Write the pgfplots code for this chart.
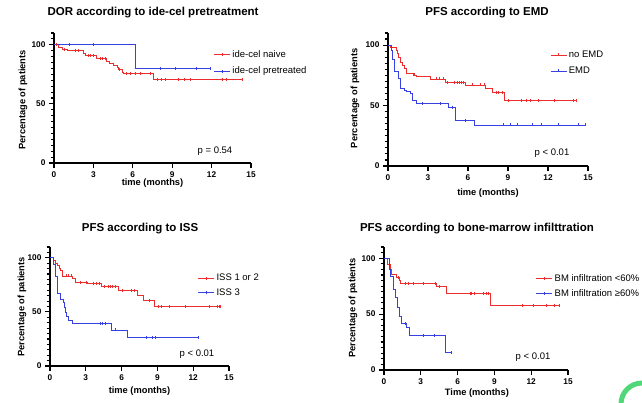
\documentclass[border=0pt]{standalone}
\usepackage{fontspec}
\setmainfont{Liberation Sans}
\usepackage{pgfplots}
\pgfplotsset{compat=1.18}
\definecolor{kmred}{RGB}{235,45,45}
\definecolor{kmblue}{RGB}{55,65,225}
\definecolor{kmgreen}{RGB}{80,215,120}
\tikzset{pval/.style={font=\fontsize{9.5}{11}\selectfont}}
\pgfplotsset{
  kmaxis/.style={
    scale only axis, anchor=south west,
    xmin=0, xmax=15, ymin=0, ymax=110,
    axis x line*=bottom, axis y line*=left,
    xtick={0,3,...,15}, ytick={0,50,100},
    tickwidth=5pt, subtickwidth=3.5pt,
    minor y tick num=9,
    extra y ticks={105,110}, extra y tick labels={},
    extra y tick style={tickwidth=3.5pt},
    xtick align=outside, ytick align=outside,
    axis line style={line width=1.2pt},
    every tick/.style={black, line width=1.1pt},
    tick label style={font=\bfseries\fontsize{8.3}{10}\selectfont},
    /pgf/number format/assume math mode=true,
    label style={font=\bfseries\fontsize{9.3}{11}\selectfont},
    every axis title shift=0pt,
    title style={font=\bfseries\fontsize{11.5}{13}\selectfont, anchor=center},
    clip=false,
    legend cell align=left,
    legend style={draw=none, fill=none, anchor=west,
      font=\fontsize{9.5}{11}\selectfont, row sep=4pt,
      inner xsep=0pt, inner ysep=0pt},
    legend image code/.code={
      \draw[##1] (0pt,0pt)--(16pt,0pt);
      \draw[##1] (8pt,-1.5pt)--(8pt,1.5pt);
    },
  },
  kmline/.style={const plot, line width=0.7pt, forget plot},
  kmcens/.style={only marks, mark=|, mark size=1.5pt, mark options={line width=0.6pt}, forget plot},
}
\begin{document}
\begin{tikzpicture}
\path[use as bounding box] (0pt,0pt) rectangle (642pt,402pt);

% Panel 1
\begin{axis}[kmaxis, at={(54pt,239pt)}, width=197pt, height=130pt,
  title={DOR according to ide-cel pretreatment},
  title style={at={(axis description cs:0.503,1.154)}, anchor=center},
  xlabel={time (months)}, ylabel={Percentage of patients},
  xlabel style={at={(axis description cs:0.5,-0.154)}, anchor=center},
  ylabel style={at={(axis description cs:-0.157,0.485)}, anchor=center},
  legend style={at={(rel axis cs:0.81,0.77)}}]
\addplot[kmred, kmline] coordinates {(0,100)(0.3,98)(0.6,96.3)(1.0,95)(2.2,93)(2.4,91)(3.2,88.7)(4.0,86.4)(4.2,84.5)(4.5,82.5)(4.8,81)(4.9,79)(5.2,77)(5.3,75.5)(7.6,70.5)(14.3,70.5)};
\addplot[kmred, kmcens] coordinates {(0.2,100)(0.8,96.3)(1.6,95)(1.85,95)(2.6,91)(2.8,91)(3.0,91)(3.5,88.7)(3.7,88.7)(3.9,88.7)(5.0,79)(5.5,75.5)(5.8,75.5)(6.2,75.5)(6.6,75.5)(7.3,75.5)(7.9,70.5)(8.2,70.5)(8.5,70.5)(9.5,70.5)(9.9,70.5)(10.4,70.5)(12.8,70.5)(13.1,70.5)(14.3,70.5)};
\addplot[kmblue, kmline] coordinates {(0,100)(6.2,80)(11.9,80)};
\addplot[kmblue, kmcens] coordinates {(1.2,100)(3.0,100)(8.1,80)(9.2,80)(10.8,80)(11.9,80)};
\addlegendimage{kmred, line width=0.7pt}
\addlegendentry{ide-cel naive}
\addlegendimage{kmblue, line width=0.7pt}
\addlegendentry{ide-cel pretreated}
\node[pval] at (rel axis cs:0.817,0.092) {p = 0.54};
\end{axis}

% Panel 2
\begin{axis}[kmaxis, at={(388pt,236pt)}, width=200pt, height=133pt,
  title={PFS according to EMD},
  title style={at={(axis description cs:0.495,1.15)}, anchor=center},
  xlabel={time (months)}, ylabel={Percentage of patients},
  xlabel style={at={(axis description cs:0.5,-0.203)}, anchor=center},
  ylabel style={at={(axis description cs:-0.165,0.51)}, anchor=center},
  legend style={at={(rel axis cs:0.81,0.775)}}]
\addplot[kmred, kmline] coordinates {(0,100)(0.2,98.5)(0.6,96)(0.7,93)(0.8,90)(0.95,86)(1.1,83.5)(1.25,80.7)(1.4,77)(1.95,75)(2.1,74)(3.2,72)(4.3,69)(5.8,67)(7.3,64)(7.8,60.5)(8.7,54.5)(14.1,54.5)};
\addplot[kmred, kmcens] coordinates {(1.9,75.5)(3.6,72)(3.85,72)(4.15,72)(4.45,69)(5.0,69)(5.2,69)(5.35,69)(5.5,69)(5.65,69)(6.3,67)(6.95,67)(7.2,67)(8.1,60.5)(8.3,60.5)(8.55,60.5)(9.0,54.5)(10.0,54.5)(10.4,54.5)(10.65,54.5)(11.3,54.5)(12.45,54.5)(13.9,54.5)(14.1,54.5)};
\addplot[kmblue, kmline] coordinates {(0,100)(0.25,96)(0.35,88)(0.5,78)(0.75,72.5)(0.9,64)(1.2,62.8)(1.4,61.4)(1.7,60)(1.8,54.5)(2.1,51.8)(4.55,48.5)(5.05,38)(6.45,34)(14.8,34)};
\addplot[kmblue, kmcens] coordinates {(2.6,51.8)(3.95,51.8)(4.8,48.5)(5.8,38)(8.65,34)(9.2,34)(9.7,34)(10.8,34)(11.5,34)(12.8,34)(14.3,34)(14.8,34)};
\addlegendimage{kmred, line width=0.7pt}
\addlegendentry{no EMD}
\addlegendimage{kmblue, line width=0.7pt}
\addlegendentry{EMD}
\node[pval] at (rel axis cs:0.82,0.098) {p < 0.01};
\end{axis}

% Panel 3
\begin{axis}[kmaxis, at={(50pt,36pt)}, width=179pt, height=119pt,
  title={PFS according to ISS},
  title style={at={(axis description cs:0.503,1.151)}, anchor=center},
  xlabel={time (months)}, ylabel={Percentage of patients},
  xlabel style={at={(axis description cs:0.5,-0.21)}, anchor=center},
  ylabel style={at={(axis description cs:-0.156,0.496)}, anchor=center},
  legend style={at={(rel axis cs:0.825,0.677)}, row sep=2.5pt}]
\addplot[kmred, kmline] coordinates {(0,100)(0.3,98)(0.45,95)(0.6,93)(0.75,90.7)(0.9,88)(1.0,83.3)(1.85,80.6)(2.1,77.5)(3.15,76)(4.3,73.5)(5.75,69.7)(7.35,65)(7.8,60.5)(8.75,55)(14.3,55)};
\addplot[kmred, kmcens] coordinates {(1.4,83.3)(1.55,83.3)(1.75,83.3)(2.5,77.5)(3.0,77.5)(3.6,76)(3.85,76)(4.1,76)(4.55,73.5)(4.85,73.5)(5.05,73.5)(5.25,73.5)(5.45,73.5)(6.1,69.7)(6.8,69.7)(7.1,69.7)(8.3,60.5)(9.1,55)(9.3,55)(10.0,55)(11.35,55)(13.35,55)(14.0,55)(14.15,55)(14.3,55)};
\addplot[kmblue, kmline] coordinates {(0,100)(0.25,94.4)(0.45,83)(0.65,66.7)(0.9,62)(1.1,59)(1.2,54)(1.3,49.7)(1.4,45.7)(1.5,42.6)(1.85,39)(5.1,33.3)(6.45,26.5)(12.45,26.5)};
\addplot[kmblue, kmcens] coordinates {(4.2,39)(4.4,39)(4.6,39)(5.5,33.3)(8.1,26.5)(8.6,26.5)(8.8,26.5)(12.45,26.5)};
\addlegendimage{kmred, line width=0.7pt}
\addlegendentry{ISS 1 or 2}
\addlegendimage{kmblue, line width=0.7pt}
\addlegendentry{ISS 3}
\node[pval] at (rel axis cs:0.821,0.10) {p < 0.01};
\end{axis}

% Panel 4
\begin{axis}[kmaxis, at={(384pt,32pt)}, width=184pt, height=123pt,
  title={PFS according to bone-marrow infilttration},
  title style={at={(axis description cs:0.505,1.154)}, anchor=center},
  xlabel={Time (months)}, ylabel={Percentage of patients},
  xlabel style={at={(axis description cs:0.505,-0.187)}, anchor=center},
  ylabel style={at={(axis description cs:-0.168,0.504)}, anchor=center},
  legend style={at={(rel axis cs:0.825,0.683)}, row sep=2.5pt}]
\addplot[kmred, kmline] coordinates {(0,100)(0.27,94.6)(0.5,90)(0.6,85.7)(1.0,82.7)(1.25,80)(1.35,77.4)(4.3,74.4)(5.1,68.8)(8.7,58)(14.3,58)};
\addplot[kmred, kmcens] coordinates {(1.15,82.7)(1.7,77.4)(2.0,77.4)(2.4,77.4)(3.2,77.4)(4.2,77.4)(4.5,74.4)(7.0,68.8)(7.15,68.8)(7.35,68.8)(8.1,68.8)(8.3,68.8)(8.5,68.8)(11.3,58)(12.2,58)(13.25,58)(13.85,58)(14.3,58)};
\addplot[kmblue, kmline] coordinates {(0,100)(0.4,90)(0.5,84)(0.8,72)(0.95,65)(1.1,56)(1.25,47.6)(1.45,41.7)(1.85,38)(2.1,30.6)(5.0,15.8)(5.45,15.8)};
\addplot[kmblue, kmcens] coordinates {(1.7,41.7)(3.2,30.6)(4.1,30.6)(5.45,15.8)};
\addlegendimage{kmred, line width=0.7pt}
\addlegendentry{BM infiltration <60\%}
\addlegendimage{kmblue, line width=0.7pt}
\addlegendentry{BM infiltration ≥60\%}
\node[pval] at (rel axis cs:0.81,0.106) {p < 0.01};
\end{axis}

\draw[kmgreen, line width=5pt] (621pt,-2pt) arc[start angle=180, end angle=90, radius=21pt];
\end{tikzpicture}
\end{document}
